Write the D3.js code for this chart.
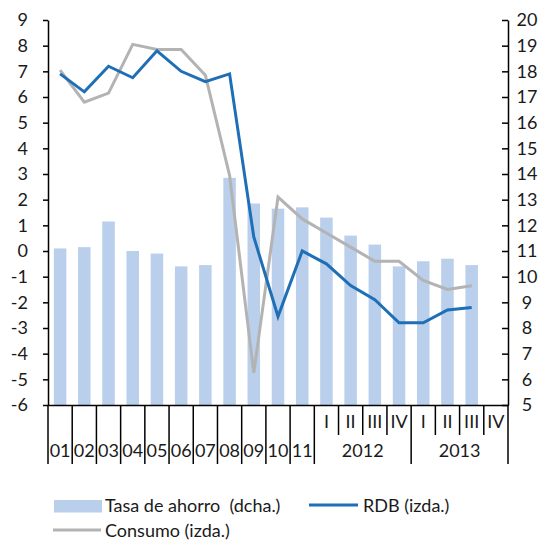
<!DOCTYPE html>
<html>
<head>
<meta charset="utf-8">
<script src="https://cdn.jsdelivr.net/npm/d3@7"></script>
<style>
  body { margin: 0; background: #fff; }
  svg text { font-family: Lato, 'Open Sans', sans-serif; fill: #1a1a1a; }
  .axis path, .axis line { stroke: #000; stroke-width: 1.5; }
</style>
</head>
<body>
<svg id="chart" width="538" height="542"></svg>
<script>
// periods: years 2001-2011, then quarters of 2012 and 2013
const periods = ['01', '02', '03', '04', '05', '06', '07', '08', '09', '10', '11',
  '2012-I', '2012-II', '2012-III', '2012-IV', '2013-I', '2013-II', '2013-III', '2013-IV'];
const periodLabels = ['01', '02', '03', '04', '05', '06', '07', '08', '09', '10', '11',
  'I', 'II', 'III', 'IV', 'I', 'II', 'III', 'IV'];
const years = ['2012', '2013'];
const yearPeriods = [['2012-I', '2012-IV'], ['2013-I', '2013-IV']];

// tasa de ahorro (right axis), RDB and consumo (left axis)
const tasaAhorro = [11.1, 11.15, 12.15, 11.0, 10.9, 10.4, 10.45, 13.85, 12.85, 12.65, 12.7,
  12.3, 11.6, 11.25, 10.4, 10.6, 10.7, 10.45, null];
const rdb = [6.9, 6.2, 7.2, 6.75, 7.8, 7.0, 6.6, 6.9, 0.55, -2.55, 0.0,
  -0.5, -1.35, -1.9, -2.8, -2.8, -2.3, -2.2, null];
const consumo = [7.05, 5.8, 6.15, 8.05, 7.85, 7.85, 6.85, 2.95, -4.75, 2.1, 1.25,
  0.7, 0.15, -0.4, -0.4, -1.15, -1.5, -1.35, null];

const leftTicks = d3.range(-6, 10);
const rightTicks = d3.range(5, 21);

const margin = { top: 20, left: 48, right: 30 };
const plotBottom = 405;
const fullWidth = 538;

const svg = d3.select('#chart');

const x = d3.scaleBand()
    .domain(periods)
    .range([margin.left, fullWidth - margin.right]);

const y = d3.scaleLinear()
    .domain([-6, 9])
    .range([plotBottom, margin.top]);

const y2 = d3.scaleLinear()
    .domain([5, 20])
    .range([plotBottom, margin.top]);

// bars
svg.append('g').selectAll('rect')
    .data(periods.map((p, i) => ({ p, v: tasaAhorro[i] })).filter(d => d.v != null))
  .enter().append('rect')
    .attr('x', d => x(d.p) + (x.bandwidth() - 12.5) / 2)
    .attr('width', 12.5)
    .attr('y', d => y2(d.v))
    .attr('height', d => y2(5) - y2(d.v))
    .attr('fill', '#b9cfeb');

// category separators and labels
const sep = svg.append('g').attr('class', 'axis');
const longSep = new Set(['01', '02', '03', '04', '05', '06', '07', '08', '09', '10', '11',
  '2012-I', '2013-I']);
periods.forEach((p) => {
  const len = longSep.has(p) ? 59 : 30;
  sep.append('line')
      .attr('x1', x(p)).attr('x2', x(p))
      .attr('y1', plotBottom).attr('y2', plotBottom + len);
});
sep.append('line')
    .attr('x1', x.range()[1]).attr('x2', x.range()[1])
    .attr('y1', plotBottom).attr('y2', plotBottom + 59);

svg.append('g').selectAll('text')
    .data(periods)
  .enter().append('text')
    .attr('x', d => x(d) + x.bandwidth() / 2)
    .attr('y', (d, i) => (i < 11 ? 457 : 428))
    .attr('text-anchor', 'middle')
    .attr('font-size', 18)
    .text((d, i) => periodLabels[i]);

svg.append('g').selectAll('text')
    .data(years)
  .enter().append('text')
    .attr('x', (d, i) => (x(yearPeriods[i][0]) + x(yearPeriods[i][1]) + x.bandwidth()) / 2)
    .attr('y', 457)
    .attr('text-anchor', 'middle')
    .attr('font-size', 18)
    .text(d => d);

// axes
svg.append('g')
    .attr('class', 'axis')
    .attr('transform', `translate(0, ${plotBottom})`)
    .call(d3.axisBottom(x).tickSize(0).tickFormat(''));

svg.append('g')
    .attr('class', 'axis')
    .attr('transform', `translate(${margin.left}, 0)`)
    .call(d3.axisLeft(y)
      .tickValues(leftTicks)
      .tickFormat(d => String(d))
      .tickSizeInner(5)
      .tickSizeOuter(0)
      .tickPadding(15))
    .call(g => g.selectAll('text').attr('font-size', 18).style('font-family', 'Lato, sans-serif').attr('fill', '#1a1a1a'));

svg.append('g')
    .attr('class', 'axis')
    .attr('transform', `translate(${fullWidth - margin.right}, 0)`)
    .call(d3.axisRight(y2)
      .tickValues(rightTicks)
      .tickFormat(d => String(d))
      .tickSizeInner(-6)
      .tickSizeOuter(0)
      .tickPadding(19))
    .call(g => g.selectAll('text')
      .attr('x', 19)
      .attr('text-anchor', 'middle')
      .attr('font-size', 18)
      .style('font-family', 'Lato, sans-serif')
      .attr('fill', '#1a1a1a'));

// lines
const line = d3.line()
    .defined(d => d.v != null)
    .x(d => x(d.p) + x.bandwidth() / 2)
    .y(d => y(d.v));

svg.append('path')
    .datum(periods.map((p, i) => ({ p, v: consumo[i] })))
    .attr('fill', 'none')
    .attr('stroke', '#b3b3b3')
    .attr('stroke-width', 3)
    .attr('d', line);

svg.append('path')
    .datum(periods.map((p, i) => ({ p, v: rdb[i] })))
    .attr('fill', 'none')
    .attr('stroke', '#1f6fb7')
    .attr('stroke-width', 3)
    .attr('d', line);

// legend
const legend = svg.append('g').attr('font-size', 18);
legend.append('rect')
    .attr('x', 54).attr('y', 500).attr('width', 48).attr('height', 12.5)
    .attr('fill', '#b9cfeb');
legend.append('text').attr('x', 105).attr('y', 512).text('Tasa de ahorro  (dcha.)')
    .style('white-space', 'pre');
legend.append('line')
    .attr('x1', 309).attr('x2', 358).attr('y1', 505).attr('y2', 505)
    .attr('stroke', '#1f6fb7').attr('stroke-width', 3);
legend.append('text').attr('x', 363).attr('y', 512).text('RDB (izda.)');
legend.append('line')
    .attr('x1', 53).attr('x2', 101).attr('y1', 530).attr('y2', 530)
    .attr('stroke', '#b3b3b3').attr('stroke-width', 3);
legend.append('text').attr('x', 105).attr('y', 537).text('Consumo (izda.)');
</script>
</body>
</html>
